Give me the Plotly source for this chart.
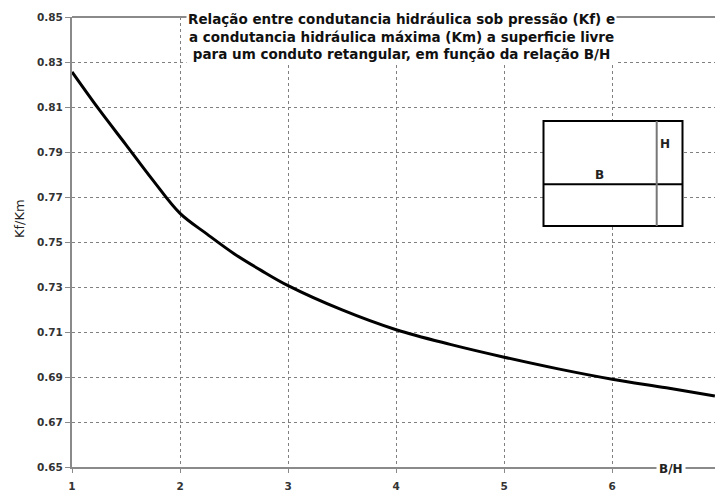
import plotly.graph_objects as go

# Data
bh = [1.0, 1.25, 1.5, 1.75, 2.0, 2.25, 2.5, 2.75, 3.0, 3.5, 4.0, 4.5, 5.0, 5.5, 6.0, 6.5, 6.95]
kf_km = [0.8256, 0.8089, 0.7932, 0.7774, 0.7627, 0.7535, 0.7448, 0.7374, 0.7306, 0.7198, 0.711, 0.7045, 0.6988, 0.6936, 0.689, 0.6852, 0.6816]
x_ticks = [1, 2, 3, 4, 5, 6]
y_ticks = [0.65, 0.67, 0.69, 0.71, 0.73, 0.75, 0.77, 0.79, 0.81, 0.83, 0.85]

W, H = 715, 493
L, R, T, B = 72, 0, 17, 26
PW, PH = W - L - R, H - T - B

def px(x):
    return (x - L) / PW

def py(y):
    return (H - B - y) / PH

FONT = "DejaVu Sans, Arial, sans-serif"

fig = go.Figure()
fig.add_trace(go.Scatter(x=bh, y=kf_km, mode="lines",
                         line=dict(color="black", width=3, shape="spline", smoothing=1.0),
                         showlegend=False, hoverinfo="skip"))

fig.update_layout(
    width=W, height=H,
    margin=dict(l=L, r=R, t=T, b=B, pad=0),
    paper_bgcolor="white", plot_bgcolor="white",
    font=dict(family=FONT, color="#222"),
    xaxis=dict(range=[1, 1 + (W - L) / 108.05], tickvals=x_ticks, ticktext=[str(v) for v in x_ticks],
               showgrid=True, gridcolor="#808080", griddash="3px,3px", gridwidth=1,
               showline=True, linecolor="#8a8a8a", linewidth=2,
               ticks="outside", ticklen=4, tickcolor="#8a8a8a", ticklabelstandoff=4,
               tickfont=dict(size=10.5, family=FONT, color="#333", weight="bold"),
               zeroline=False, fixedrange=True, automargin=False),
    yaxis=dict(range=[0.65, 0.85], tickvals=y_ticks, ticktext=[f"{v:.2f}" for v in y_ticks],
               showgrid=True, gridcolor="#808080", griddash="3px,3px", gridwidth=1,
               showline=True, linecolor="#8a8a8a", linewidth=2,
               ticks="outside", ticklen=5, tickcolor="#8a8a8a",
               tickfont=dict(size=10.5, family=FONT, color="#333", weight="bold"),
               zeroline=False, fixedrange=True, automargin=False),
)

shapes = []
# solid top border
shapes.append(dict(type="line", xref="paper", yref="paper", x0=0, x1=1, y0=1, y1=1,
                   line=dict(color="#8a8a8a", width=2)))
# inset rectangle
shapes.append(dict(type="rect", xref="paper", yref="paper",
                   x0=px(543.5), x1=px(682.5), y0=py(226), y1=py(121),
                   line=dict(color="black", width=2), fillcolor="white", layer="above"))
shapes.append(dict(type="line", xref="paper", yref="paper",
                   x0=px(543.5), x1=px(682.5), y0=py(184.3), y1=py(184.3),
                   line=dict(color="black", width=2), layer="above"))
shapes.append(dict(type="line", xref="paper", yref="paper",
                   x0=px(656.7), x1=px(656.7), y0=py(226), y1=py(121),
                   line=dict(color="#777", width=2), layer="above"))
fig.update_layout(shapes=shapes)

title = ("Relação entre condutancia hidráulica sob pressão (Kf) e<br>"
         "a condutancia hidráulica máxima (Km) a superficie livre<br>"
         "para um conduto retangular, em função da relação B/H")
fig.add_annotation(text=title, xref="paper", yref="paper", x=px(401), y=py(9),
                   xanchor="center", yanchor="top", showarrow=False, align="center",
                   bgcolor="white", borderpad=1,
                   font=dict(size=13.5, family=FONT, color="#111", weight="bold"))
fig.add_annotation(text="Kf/Km", xref="paper", yref="paper", x=px(19), y=py(219),
                   textangle=-90, showarrow=False, xanchor="center", yanchor="middle",
                   font=dict(size=13, family=FONT, color="#222"))
fig.add_annotation(text="B/H", xref="paper", yref="paper", x=px(671), y=py(469),
                   showarrow=False, xanchor="center", yanchor="middle", bgcolor="white",
                   borderpad=2, font=dict(size=12, family=FONT, color="#222", weight="bold"))
fig.add_annotation(text="H", xref="paper", yref="paper", x=px(665), y=py(144),
                   showarrow=False, xanchor="center", yanchor="middle",
                   font=dict(size=12, family=FONT, color="#222", weight="bold"))
fig.add_annotation(text="B", xref="paper", yref="paper", x=px(599), y=py(175),
                   showarrow=False, xanchor="center", yanchor="middle",
                   font=dict(size=12, family=FONT, color="#222", weight="bold"))

fig.write_html("out.html", config={"displayModeBar": False},
               post_script="document.body.style.margin='0';document.body.style.overflow='hidden';")
